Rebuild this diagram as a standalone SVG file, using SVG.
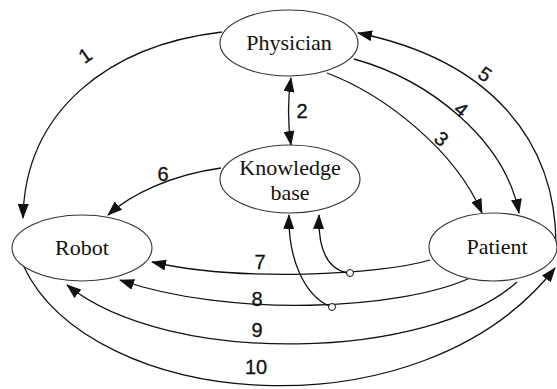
<svg xmlns="http://www.w3.org/2000/svg" width="557" height="389" viewBox="0 0 557 389">
<style>
.node{fill:#fff;stroke:#333;stroke-width:1.1}
.nt{font-family:'Liberation Serif','Times New Roman',serif;font-size:22px;fill:#111;text-anchor:middle}
.c{fill:none;stroke:#111;stroke-width:1.3}
.lb{font-family:'Liberation Sans',Arial,sans-serif;font-size:20px;fill:#111;stroke:#111;stroke-width:0.3;text-anchor:middle}
.j{fill:#fff;stroke:#111;stroke-width:1}
</style>
<defs>
<marker id="ah" markerUnits="userSpaceOnUse" markerWidth="15" markerHeight="11" refX="14" refY="5.5" orient="auto-start-reverse" viewBox="0 0 15 11">
<path d="M0,0 L15,5.5 L0,11 Z" fill="#111"/>
</marker>
</defs>
<g id="connectors">
<path class="c" d="M222,32 C110,45 25,110 23,218" marker-end="url(#ah)"/>
<path class="c" d="M291,78 Q286,111 291,145" marker-start="url(#ah)" marker-end="url(#ah)"/>
<path class="c" d="M327,73 C385,95 455,150 482,213" marker-end="url(#ah)"/>
<path class="c" d="M354,59 C430,80 505,140 519,213" marker-end="url(#ah)"/>
<path class="c" d="M556,245 C556,140 490,60 358,33" marker-end="url(#ah)"/>
<path class="c" d="M221,168 C170,175 130,195 108,215" marker-end="url(#ah)"/>
<path class="c" d="M430,260 C380,275 240,282 152,262" marker-end="url(#ah)"/>
<path class="c" d="M347,273 C325,268 318,245 319,215" marker-end="url(#ah)"/>
<path class="c" d="M470,278 C400,310 230,318 120,280" marker-end="url(#ah)"/>
<path class="c" d="M329,306 C305,295 288,260 289,215" marker-end="url(#ah)"/>
<path class="c" d="M517,282 C430,360 170,368 67,285" marker-end="url(#ah)"/>
<path class="c" d="M23,265 C90,410 420,440 555,268" marker-end="url(#ah)"/>
<circle class="j" cx="350" cy="273" r="3.5"/>
<circle class="j" cx="332" cy="307" r="3.5"/>
<text class="lb" transform="translate(89,61) rotate(-35)">1</text>
<text class="lb" x="302" y="118">2</text>
<text class="lb" transform="translate(437,144) rotate(40)">3</text>
<text class="lb" transform="translate(457,115) rotate(38)">4</text>
<text class="lb" transform="translate(481,80) rotate(35)">5</text>
<text class="lb" x="163" y="181">6</text>
<text class="lb" x="260" y="269">7</text>
<text class="lb" x="257" y="306">8</text>
<text class="lb" x="257" y="337">9</text>
<text class="lb" x="256" y="374">10</text>
</g>
<g id="physician">
<ellipse class="node" cx="289" cy="43" rx="69" ry="33"/>
<text class="nt" x="289" y="50">Physician</text>
</g>
<g id="knowledge-base">
<ellipse class="node" cx="290" cy="179" rx="70" ry="34"/>
<text class="nt" x="290" y="175">Knowledge</text>
<text class="nt" x="290" y="200">base</text>
</g>
<g id="robot">
<ellipse class="node" cx="82" cy="248" rx="70" ry="33"/>
<text class="nt" x="82" y="255">Robot</text>
</g>
<g id="patient">
<ellipse class="node" cx="493" cy="247" rx="64" ry="34"/>
<text class="nt" x="497" y="254">Patient</text>
</g>
</svg>
